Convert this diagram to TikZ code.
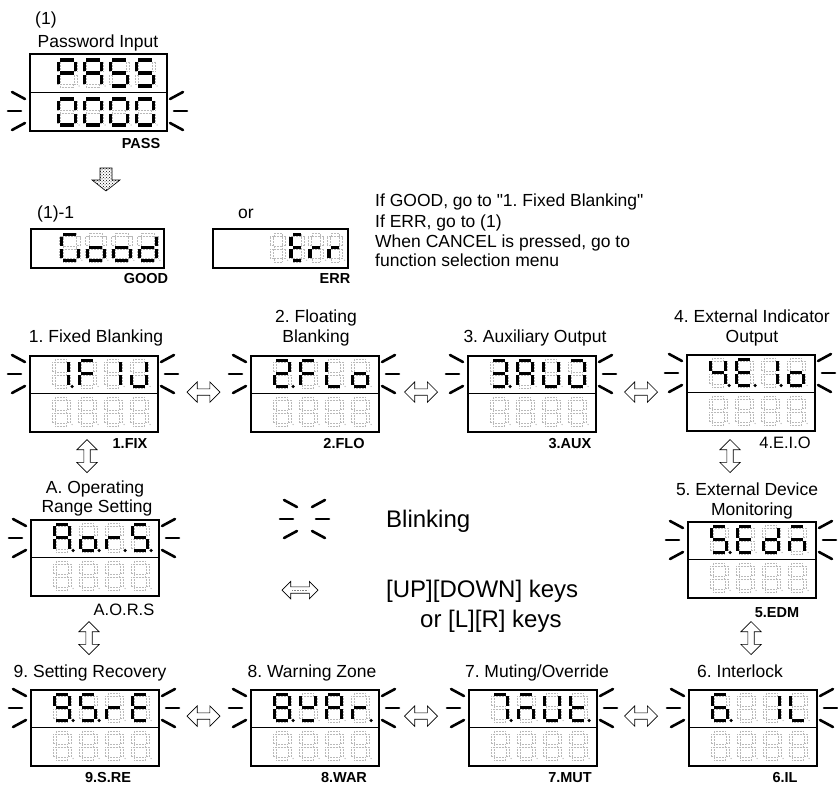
\documentclass[tikz,border=0pt]{standalone}
\usepackage{fontspec}
\setmainfont{Liberation Sans}[Ligatures=TeXOff]
\usetikzlibrary{shapes.arrows,patterns}
\frenchspacing

\newcommand\digw{15}
\newcommand\digh{26}
\newcommand\segpa[1]{\draw[#1] (1.9,0) -- (\digw-1.9,0);}
\newcommand\segpb[1]{\draw[#1] (\digw,1.9) -- (\digw,\digh/2-1.9);}
\newcommand\segpc[1]{\draw[#1] (\digw,\digh/2+1.9) -- (\digw,\digh-1.9);}
\newcommand\segpd[1]{\draw[#1] (1.9,\digh) -- (\digw-1.9,\digh);}
\newcommand\segpe[1]{\draw[#1] (0,\digh/2+1.9) -- (0,\digh-1.9);}
\newcommand\segpf[1]{\draw[#1] (0,1.9) -- (0,\digh/2-1.9);}
\newcommand\segpg[1]{\draw[#1] (1.9,\digh/2) -- (\digw-1.9,\digh/2);}
\newcommand\segpp[1]{\fill[black] (\digw+3.6,\digh) circle (1.8pt);}
\newcommand\segpnone[1]{}
\newcommand\offsegs{%
  \draw[offseg] (1.9,-1.6) rectangle (\digw-1.9,1.6);
  \draw[offseg] (\digw-1.6,1.9) rectangle (\digw+1.6,\digh/2-1.9);
  \draw[offseg] (\digw-1.6,\digh/2+1.9) rectangle (\digw+1.6,\digh-1.9);
  \draw[offseg] (1.9,\digh-1.6) rectangle (\digw-1.9,\digh+1.6);
  \draw[offseg] (-1.6,\digh/2+1.9) rectangle (1.6,\digh-1.9);
  \draw[offseg] (-1.6,1.9) rectangle (1.6,\digh/2-1.9);
  \draw[offseg] (1.9,\digh/2-1.6) rectangle (\digw-1.9,\digh/2+1.6);
  \fill[gray!50] (\digw+3.6,\digh) circle (0.7pt);}
\newcommand\segdigit[3]{%
  \begin{scope}[shift={(#1,#2)}]
    \offsegs
    \foreach \s in {#3}{\csname segp\s\endcsname{onseg}}
  \end{scope}}
\newcommand\blinkL[2]{%
  \draw[blinkst] (#1-17,#2-19) -- (#1-4,#2-12);
  \draw[blinkst] (#1-21,#2) -- (#1-8,#2);
  \draw[blinkst] (#1-17,#2+19) -- (#1-4,#2+12);}
\newcommand\blinkR[2]{%
  \draw[blinkst] (#1+17,#2-19) -- (#1+4,#2-12);
  \draw[blinkst] (#1+21,#2) -- (#1+8,#2);
  \draw[blinkst] (#1+17,#2+19) -- (#1+4,#2+12);}
\newcommand\fundisp[7]{%
  \node[disp] (#1) at (#2,#3) {};
  \draw[sepline] (#1.west) -- (#1.east);
  \begin{scope}[shift={(#1.north west)}]
    \def\digw{15}\def\digh{26}
    \segdigit{24.5}{5.5}{#4}\segdigit{50.5}{5.5}{#5}\segdigit{76.5}{5.5}{#6}\segdigit{102.5}{5.5}{#7}
    \segdigit{24.5}{43.5}{none}\segdigit{50.5}{43.5}{none}\segdigit{76.5}{43.5}{none}\segdigit{102.5}{43.5}{none}
  \end{scope}
  \blinkL{#2}{#3+19}\blinkR{#2+128}{#3+19}}

\begin{document}
\begin{tikzpicture}[x=1pt,y=-1pt,
  disp/.style={draw, rectangle, line width=1.6pt, minimum width=128pt, minimum height=76pt, inner sep=0pt, anchor=north west},
  sepline/.style={line width=1.2pt},
  onseg/.style={draw=black, line width=3.4pt},
  offseg/.style={draw=gray!55, line width=0.45pt, dash pattern=on 0.6pt off 0.9pt},
  blinkst/.style={line width=2.6pt, line cap=round},
  harrow/.style={double arrow, draw, fill=white, line width=0.7pt, minimum height=33pt, double arrow head extend=7pt, inner sep=2.8pt},
  varrow/.style={harrow, rotate=90},
  ttl/.style={font=\fontsize{17.5}{20}\selectfont, inner sep=0pt, anchor=base},
  sml/.style={font=\fontsize{14.5}{16}\selectfont\bfseries, inner sep=0pt, anchor=base},
  smr/.style={font=\fontsize{16.5}{18}\selectfont, inner sep=0pt, anchor=base},
  txt/.style={font=\fontsize{17.5}{20}\selectfont, inner sep=0pt, anchor=base west},
  big/.style={font=\fontsize{24}{28}\selectfont, inner sep=0pt, anchor=base west}]
\useasboundingbox (0,0) rectangle (838,785);

% ---------- (1) password input ----------
\node[ttl, anchor=base west] (t1) at (35,24) {(1)};
\node[ttl] (tpw) at (98,47) {Password Input};
\node[disp, minimum width=137pt, minimum height=77pt] (pass) at (29,53) {};
\draw[sepline] (pass.west) -- (pass.east);
\begin{scope}[shift={(pass.north west)}]
  \def\digw{17}\def\digh{26}
  \segdigit{29.5}{7}{a,b,e,f,g}\segdigit{55.5}{7}{a,b,c,e,f,g}\segdigit{81.5}{7}{a,c,d,f,g}\segdigit{107.5}{7}{a,c,d,f,g}
  \segdigit{29.5}{46}{a,b,c,d,e,f}\segdigit{55.5}{46}{a,b,c,d,e,f}\segdigit{81.5}{46}{a,b,c,d,e,f}\segdigit{107.5}{46}{a,b,c,d,e,f}
\end{scope}
\blinkL{29}{111}\blinkR{166}{111}
\node[sml] (lpass) at (141,148) {PASS};

% down arrow
\draw[line width=0.6pt, pattern=crosshatch dots] (100,168) -- (112,168) -- (112,180) -- (120,180) -- (106,191) -- (92,180) -- (100,180) -- cycle;

% ---------- (1)-1 ----------
\node[ttl, anchor=base west] (t11) at (37,218) {(1)-1};
\node[ttl] (tor) at (246,218) {or};
\node[disp, minimum width=133pt, minimum height=39pt] (good) at (30,228) {};
\begin{scope}[shift={(good.north west)}]
  \def\digw{17}\def\digh{25.5}
  \segdigit{31.3}{6.7}{a,c,d,e,f}\segdigit{57.3}{6.7}{c,d,e,g}\segdigit{83.3}{6.7}{c,d,e,g}\segdigit{109.3}{6.7}{b,c,d,e,g}
\end{scope}
\node[sml] (lgood) at (146,283) {GOOD};
\node[disp, minimum width=135pt, minimum height=39pt] (err) at (212,228) {};
\begin{scope}[shift={(err.north west)}]
  \def\digw{12}\def\digh{25.5}
  \segdigit{60}{6.7}{none}\segdigit{79}{6.7}{a,d,e,f,g}\segdigit{98}{6.7}{e,g}\segdigit{117}{6.7}{e,g}
\end{scope}
\node[sml] (lerr) at (335,283) {ERR};

\node[txt] (r1) at (375,206) {If GOOD, go to "1. Fixed Blanking"};
\node[txt] (r2) at (375,227) {If ERR, go to (1)};
\node[txt] (r3) at (375,247) {When CANCEL is pressed, go to};
\node[txt] (r4) at (375,266) {function selection menu};

% ---------- row 1 ----------
\node[ttl] (t1a) at (96,342) {1. Fixed Blanking};
\node[ttl] (t2a) at (316,322) {2. Floating};
\node[ttl] (t2b) at (316,342) {Blanking};
\node[ttl] (t3a) at (535,342) {3. Auxiliary Output};
\node[ttl] (t4a) at (752,322) {4. External Indicator};
\node[ttl] (t4b) at (752,342) {Output};

\fundisp{d1}{29}{355}{b,c,p}{a,e,f,g}{b,c}{b,c,d,e}
\fundisp{d2}{250}{355}{a,b,d,e,g,p}{a,e,f,g}{d,e,f}{c,d,e,g}
\fundisp{d3}{467}{355}{a,b,c,d,g,p}{a,b,c,e,f,g}{b,c,d,e,f}{a,b,c,d,e}
\fundisp{d4}{686}{354}{b,c,f,g,p}{a,d,e,f,g,p}{b,c,p}{c,d,e,g}

\node[sml] (l1) at (130,448) {1.FIX};
\node[sml] (l2) at (344,448) {2.FLO};
\node[sml] (l3) at (570,448) {3.AUX};
\node[smr] (l4) at (785,448) {4.E.I.O};

\node[harrow] (h12) at (203.5,392) {};
\node[harrow] (h23) at (421,392) {};
\node[harrow] (h34) at (641,392) {};

% ---------- row 2 ----------
\node[varrow] (v1a) at (87,456) {};
\node[varrow] (v45) at (730,456) {};

\node[ttl] (tAa) at (95,493) {A. Operating};
\node[ttl] (tAb) at (97,512) {Range Setting};
\node[ttl] (t5a) at (747,495) {5. External Device};
\node[ttl] (t5b) at (752,515) {Monitoring};

\fundisp{da}{30}{519}{a,b,c,e,f,g,p}{c,d,e,g,p}{e,g,p}{a,c,d,f,g,p}
\fundisp{d5}{687}{521}{a,c,d,f,g,p}{a,d,e,f,g}{b,c,d,e,g}{a,c,e,g}

\node[smr] (lA) at (124,615) {A.O.R.S};
\node[sml] (l5) at (777,617) {5.EDM};

% legend
\blinkL{301}{519}\blinkR{308}{519}
\node[big] (lblink) at (386,527) {Blinking};
\node[harrow, minimum height=36pt, double arrow head extend=5.5pt] (hleg) at (300,590) {};
\draw[gray, densely dotted, line width=0.6pt] (hleg.center) ++(-8,0) -- ++(16,0);
\node[big] (lkeys1) at (386,597) {[UP][DOWN] keys};
\node[big] (lkeys2) at (420,627) {or [L][R] keys};

\node[varrow] (va9) at (89,638) {};
\node[varrow] (v56) at (751,638) {};

% ---------- row 3 ----------
\node[ttl] (t9) at (90,677) {9. Setting Recovery};
\node[ttl] (t8) at (312,677) {8. Warning Zone};
\node[ttl] (t7) at (537,677) {7. Muting/Override};
\node[ttl] (t6) at (740,677) {6. Interlock};

\fundisp{d9}{30}{689}{a,b,c,d,f,g,p}{a,c,d,f,g,p}{e,g}{a,d,e,f,g}
\fundisp{d8}{250}{689}{a,b,c,d,e,f,g,p}{b,d,f,g}{a,b,c,e,f,g}{e,g,p}
\fundisp{d7}{468}{689}{a,b,c,p}{a,c,e,g}{b,c,d,e,f}{d,e,f,g,p}
\fundisp{d6}{688}{689}{a,c,d,e,f,g,p}{none}{b,c}{d,e,f}

\node[harrow] (h98) at (203.5,716) {};
\node[harrow] (h87) at (421,716) {};
\node[harrow] (h76) at (641,716) {};

\node[sml] (l9) at (108,782) {9.S.RE};
\node[sml] (l8) at (344,782) {8.WAR};
\node[sml] (l7) at (570,782) {7.MUT};
\node[sml] (l6) at (785,782) {6.IL};
\end{tikzpicture}
\end{document}
